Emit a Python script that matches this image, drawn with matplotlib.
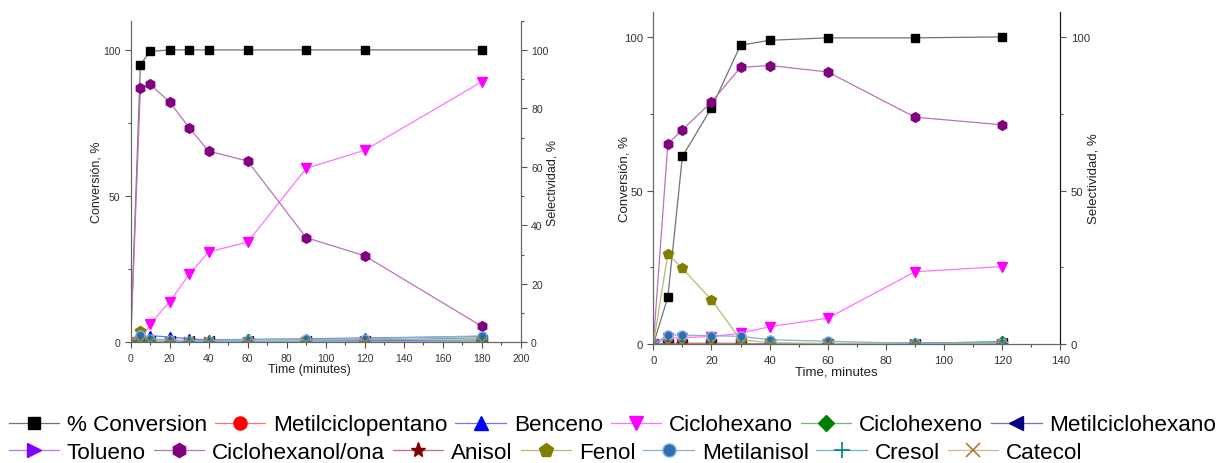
import matplotlib
matplotlib.use("Agg")
import matplotlib.pyplot as plt
from matplotlib.colors import to_rgb
from matplotlib.ticker import MultipleLocator

plt.rcParams['font.family'] = ['Liberation Sans', 'DejaVu Sans']

# series names, markers and colours (legend order)
names = ['% Conversion', 'Metilciclopentano', 'Benceno', 'Ciclohexano', 'Ciclohexeno',
         'Metilciclohexano', 'Tolueno', 'Ciclohexanol/ona', 'Anisol', 'Fenol',
         'Metilanisol', 'Cresol', 'Catecol']
markers = ['s', 'o', '^', 'v', 'D', '<', '>', 'h', '*', 'p', 'o', '+', 'x']
colors = ['#000000', '#ff0000', '#0000ff', '#ff00ff', '#008000', '#000080', '#8000ff',
          '#800080', '#800000', '#808000', '#2e6db4', '#008080', '#b07a3a']

# left panel (time in minutes)
t_a = [0, 5, 10, 20, 30, 40, 60, 90, 120, 180]
conv_a = [0, 95, 99.5, 100, 100, 100, 100, 100, 100, 100]
mcp_a = [0, 0.3, 0.2, 0.2, 0.2, 0.2, 0.3, 0.3, 0.3, 0.5]
benceno_a = [0, 1.5, 2.3, 1.8, 1.2, 0.8, 1.0, 1.2, 1.5, 2.0]
ciclohexano_a = [0, 0.5, 6.2, 13.9, 23.3, 30.9, 34.3, 59.5, 65.7, 89.1]
ciclohexeno_a = [0, 0.5, 0.5, 0.3, 0.3, 0.3, 1.0, 0.8, 0.8, 1.5]
mch_a = [0, 0.3, 0.3, 0.3, 0.3, 0.3, 0.3, 0.3, 0.5, 0.8]
tolueno_a = [0, 0.2, 0.2, 0.2, 0.2, 0.2, 0.2, 0.2, 0.3, 0.5]
ciclohexanol_a = [0, 87.0, 88.2, 82.2, 73.4, 65.4, 62.0, 35.8, 29.6, 5.5]
anisol_a = [0, 0.5, 0.2, 0, 0, 0, 0, 0, 0, 0]
fenol_a = [0, 4.0, 0.5, 0, 0, 0, 0, 0, 0, 0.5]
metilanisol_a = [0, 2.5, 1.2, 0.8, 0.6, 0.5, 0.8, 1.0, 1.2, 2.2]
cresol_a = [0, 0.5, 0.3, 0.2, 0.2, 0.2, 0.2, 0.2, 0.2, 0.3]
catecol_a = [0, 0, 0, 0, 0, 0, 0, 0, 0, 0]

# right panel
t_b = [0, 5, 10, 20, 30, 40, 60, 90, 120]
conv_b = [0, 15.3, 61.1, 76.9, 97.3, 98.9, 99.7, 99.7, 100]
mcp_b = [0, 0.3, 0.3, 0.3, 0.3, 0, 0, 0, 0]
benceno_b = [0, 0.2, 0.2, 0.2, 0.2, 0.2, 0.2, 0.5, 0.5]
ciclohexano_b = [0, 2.0, 2.2, 2.5, 3.6, 5.7, 8.5, 23.6, 25.3]
ciclohexeno_b = [0, 0, 0, 0, 0, 0, 0, 0.2, 1.0]
mch_b = [0, 0, 0, 0, 0, 0, 0, 0.2, 0.3]
tolueno_b = [0, 0, 0, 0, 0, 0, 0, 0, 0]
ciclohexanol_b = [0, 65.2, 69.8, 78.8, 90.1, 90.7, 88.6, 73.9, 71.4]
anisol_b = [0, 0.3, 0.3, 0.3, 0.3, 0, 0, 0, 0]
fenol_b = [0, 29.4, 24.7, 14.5, 1.5, 0.5, 0.3, 0.2, 0.2]
metilanisol_b = [0, 3.1, 3.0, 2.8, 2.6, 1.5, 1.0, 0.3, 0.5]
cresol_b = [0, 0, 0, 0, 0, 0, 0, 0, 0]
catecol_b = [0, 0, 0, 0, 0, 0, 0, 0, 0]

series_a = [conv_a, mcp_a, benceno_a, ciclohexano_a, ciclohexeno_a, mch_a, tolueno_a,
            ciclohexanol_a, anisol_a, fenol_a, metilanisol_a, cresol_a, catecol_a]
series_b = [conv_b, mcp_b, benceno_b, ciclohexano_b, ciclohexeno_b, mch_b, tolueno_b,
            ciclohexanol_b, anisol_b, fenol_b, metilanisol_b, cresol_b, catecol_b]

msizes = {'s': 6, 'o': 6.5, '^': 6.5, 'v': 7, 'D': 5.5, '<': 6.5, '>': 6.5,
          'h': 7, '*': 7.5, 'p': 7, '+': 8, 'x': 7}


def light(c, f=0.45):
    r, g, b = to_rgb(c)
    return (r + (1 - r) * f, g + (1 - g) * f, b + (1 - b) * f)


def panel(rect, t, series, xmax, xstep, ymax, sel_major, xlabel, fs_tick, fs_lab, lab_pos):
    ax = fig.add_axes(rect)
    ax2 = ax.twinx()
    lines = []
    for i, (y, m, c) in enumerate(zip(series, markers, colors)):
        target = ax if i == 0 else ax2
        mec = '#7fb0e0' if names[i] == 'Metilanisol' else c
        ln, = target.plot(t, y, color=light(c), lw=0.9, marker=m, ms=msizes[m],
                          mfc=c, mec=mec, mew=1.0 if m not in ('+', 'x') else 1.2,
                          label=names[i])
        lines.append(ln)
    for a in (ax, ax2):
        a.set_xlim(0, xmax)
        a.set_ylim(0, ymax)
        for s in a.spines.values():
            s.set_color('#666666')
        a.spines['top'].set_visible(False)
        a.tick_params(which='both', direction='out', colors='#555555',
                      labelcolor='#333333', labelsize=fs_tick, width=0.8)
        a.tick_params(which='major', length=4)
        a.tick_params(which='minor', length=2.5)
    ax.xaxis.set_major_locator(MultipleLocator(xstep))
    ax.xaxis.set_minor_locator(MultipleLocator(xstep / 2))
    ax.yaxis.set_major_locator(MultipleLocator(50))
    ax.yaxis.set_minor_locator(MultipleLocator(25))
    ax2.yaxis.set_major_locator(MultipleLocator(sel_major))
    ax2.yaxis.set_minor_locator(MultipleLocator(sel_major / 2))
    ax.set_xlabel(xlabel, fontsize=fs_lab, color='#222222')
    ax.set_ylabel('Conversión, %', fontsize=fs_lab, color='#222222')
    ax2.set_ylabel('Selectividad, %', fontsize=fs_lab, color='#222222')
    ax.xaxis.set_label_coords(lab_pos[0], lab_pos[1])
    ax.yaxis.set_label_coords(lab_pos[2], 0.5)
    ax2.yaxis.set_label_coords(lab_pos[3], 0.5)
    return ax, ax2, lines


fig = plt.figure(figsize=(12.2, 4.64), dpi=100)

ax_a, ax2_a, lines_a = panel([0.1071, 0.2601, 0.3197, 0.6931], t_a, series_a, 200, 20, 110, 20,
                             'Time (minutes)', 7.5, 9, (0.457, -0.064, -0.072, 1.067))
ax_b, ax2_b, lines_b = panel([0.5355, 0.2558, 0.3336, 0.7168], t_b, series_b, 140, 20, 108.2, 50,
                             'Time, minutes', 8.2, 9.5, (0.449, -0.065, -0.055, 1.066))
ax2_b.spines['right'].set_color('#111111')

leg_kw = dict(frameon=False, fontsize=16.2, handlelength=2.24, handletextpad=0.35,
              columnspacing=0.35, borderpad=0, borderaxespad=0, markerscale=1.45,
              loc='center left')
fig.legend(lines_a[:6], names[:6], ncol=6, bbox_to_anchor=(0.007, 0.082), **leg_kw)
fig.legend(lines_a[6:], names[6:], ncol=7, bbox_to_anchor=(0.007, 0.022), **leg_kw)

fig.savefig('out.png', dpi=100)
